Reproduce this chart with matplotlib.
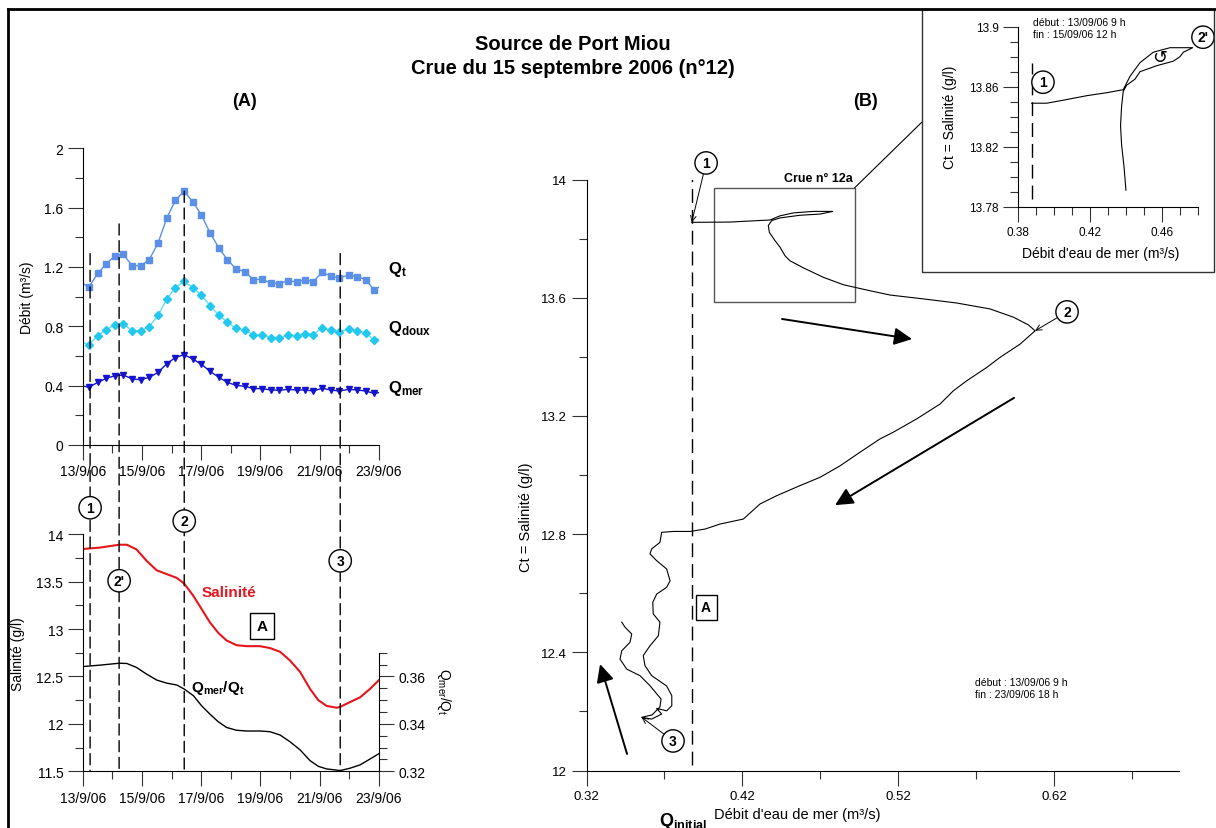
import numpy as np
import matplotlib.pyplot as plt
from matplotlib.patches import Rectangle, ConnectionPatch
from matplotlib.lines import Line2D
from matplotlib.ticker import FixedLocator, MultipleLocator

plt.rcParams['font.family'] = ['Liberation Sans', 'DejaVu Sans']
plt.rcParams['mathtext.fontset'] = 'custom'
plt.rcParams['mathtext.rm'] = 'Liberation Sans'
plt.rcParams['mathtext.bf'] = 'Liberation Sans:bold'
plt.rcParams['mathtext.it'] = 'Liberation Sans:italic'

# ---- (A) debits, jour de septembre 2006
t_q = [13.00, 13.20, 13.51, 13.79, 14.09, 14.37, 14.67, 14.96, 15.25, 15.55,
       15.84, 16.13, 16.42, 16.72, 17.01, 17.30, 17.60, 17.89, 18.18, 18.47,
       18.77, 19.06, 19.35, 19.64, 19.94, 20.23, 20.51, 20.79, 21.09, 21.38,
       21.67, 21.98, 22.26, 22.56, 22.84, 23.00]
q_total = [1.09, 1.063, 1.157, 1.220, 1.276, 1.285, 1.209, 1.209, 1.249, 1.364,
           1.530, 1.649, 1.710, 1.640, 1.551, 1.431, 1.328, 1.249, 1.187, 1.169,
           1.115, 1.117, 1.092, 1.088, 1.108, 1.099, 1.115, 1.101, 1.164, 1.139,
           1.126, 1.146, 1.135, 1.115, 1.045, 1.063]
q_doux = [0.692, 0.674, 0.737, 0.775, 0.811, 0.818, 0.769, 0.771, 0.798, 0.876,
          0.984, 1.061, 1.103, 1.061, 1.011, 0.939, 0.876, 0.827, 0.787, 0.775,
          0.742, 0.742, 0.724, 0.721, 0.742, 0.737, 0.751, 0.744, 0.791, 0.773,
          0.764, 0.780, 0.769, 0.757, 0.706, 0.715]
q_mer = [0.398, 0.389, 0.422, 0.449, 0.467, 0.472, 0.445, 0.440, 0.456, 0.490,
         0.548, 0.589, 0.609, 0.580, 0.544, 0.497, 0.456, 0.422, 0.402, 0.396,
         0.380, 0.380, 0.371, 0.369, 0.375, 0.371, 0.371, 0.364, 0.382, 0.371,
         0.364, 0.375, 0.371, 0.364, 0.348, 0.353]

# ---- (A) salinite et Qmer/Qt
t_s = [13.00, 13.59, 14.23, 14.49, 14.82, 15.16, 15.50, 15.84, 16.18, 16.43,
       16.74, 17.02, 17.30, 17.58, 17.86, 18.20, 18.54, 18.99, 19.33, 19.67,
       20.00, 20.34, 20.68, 20.96, 21.24, 21.58, 21.70, 22.03, 22.37, 22.71, 23.00]
salinite = [13.845, 13.86, 13.89, 13.89, 13.84, 13.72, 13.62, 13.58, 13.54, 13.48,
            13.35, 13.21, 13.07, 12.96, 12.88, 12.83, 12.82, 12.82, 12.80, 12.76,
            12.67, 12.55, 12.37, 12.25, 12.19, 12.17, 12.18, 12.23, 12.28, 12.37, 12.46]
rapport = [0.3642, 0.3648, 0.3656, 0.3655, 0.3638, 0.3610, 0.3585, 0.3572, 0.3564, 0.3547,
           0.3519, 0.3476, 0.3441, 0.3409, 0.3385, 0.3373, 0.3370, 0.3370, 0.3367, 0.3353,
           0.3325, 0.3291, 0.3245, 0.3221, 0.3210, 0.3205, 0.3203, 0.3213, 0.3227, 0.3252, 0.3274]

# evenements 1, 2', 2, 3
t_evt = [13.25, 14.23, 16.43, 21.70]
evt_noms = ['1', "2'", '2', '3']
evt_haut = [1.29, 1.49, 1.71, 1.29]
evt_y = [14.28, 13.51, 14.14, 13.72]

date_ticks = [13, 15, 17, 19, 21, 23]
date_labels = ['13/9/06', '15/9/06', '17/9/06', '19/9/06', '21/9/06', '23/9/06']

# ---- (B) salinite vs debit d'eau de mer
qmer_b = [0.3875, 0.4120, 0.4377, 0.4441, 0.4527, 0.4655, 0.4779, 0.4698, 0.4569, 0.4441,
          0.4388, 0.4366, 0.4373, 0.4409, 0.4441, 0.4473, 0.4505, 0.4591, 0.4719, 0.4847,
          0.4997, 0.5147, 0.5360, 0.5575, 0.5788, 0.5938, 0.6034, 0.6077, 0.5981, 0.5852,
          0.5767, 0.5639, 0.5553, 0.5467, 0.5318, 0.5168, 0.5082, 0.4954, 0.4826, 0.4697,
          0.4569, 0.4420, 0.4313, 0.4206, 0.4056, 0.3960, 0.3864, 0.3757, 0.3682, 0.3671,
          0.3618, 0.3607, 0.3650, 0.3714, 0.3736, 0.3714, 0.3650, 0.3625, 0.3628, 0.3671,
          0.3661, 0.3607, 0.3564, 0.3575, 0.3618, 0.3714, 0.3747, 0.3747, 0.3714, 0.3650,
          0.3682, 0.3618, 0.3554, 0.3620, 0.3671, 0.3678, 0.3607, 0.3543, 0.3458, 0.3415,
          0.3426, 0.3479, 0.3490, 0.3447, 0.3426]
ct_b = [13.855, 13.856, 13.863, 13.877, 13.887, 13.892, 13.892, 13.883, 13.879, 13.870,
        13.861, 13.844, 13.821, 13.793, 13.771, 13.742, 13.725, 13.701, 13.669, 13.644,
        13.626, 13.609, 13.596, 13.582, 13.562, 13.534, 13.508, 13.488, 13.443, 13.398,
        13.364, 13.319, 13.285, 13.240, 13.190, 13.145, 13.122, 13.077, 13.031, 12.992,
        12.964, 12.930, 12.902, 12.851, 12.834, 12.817, 12.809, 12.809, 12.806, 12.772,
        12.750, 12.733, 12.710, 12.682, 12.642, 12.620, 12.597, 12.569, 12.530, 12.502,
        12.456, 12.422, 12.389, 12.355, 12.321, 12.286, 12.253, 12.219, 12.202, 12.210,
        12.191, 12.174, 12.180, 12.188, 12.215, 12.242, 12.287, 12.321, 12.343, 12.377,
        12.405, 12.434, 12.462, 12.485, 12.502]
q_initial = 0.3875
i_pt2 = 27   # point 2 (max de Qmer)
i_pt3 = 72   # point 3

# ---- zoom crue 12a
qmer_i = [0.3874, 0.3958, 0.4050, 0.4180, 0.4291, 0.4383, 0.4421, 0.4476, 0.4550, 0.4643,
          0.4736, 0.4769, 0.4717, 0.4698, 0.4661, 0.4569, 0.4476, 0.4448, 0.4402, 0.4383,
          0.4374, 0.4368, 0.4374, 0.4387, 0.4398]
ct_i = [13.849, 13.849, 13.851, 13.854, 13.856, 13.858, 13.867, 13.876, 13.883, 13.886,
        13.886, 13.886, 13.883, 13.880, 13.877, 13.874, 13.870, 13.865, 13.861, 13.857,
        13.847, 13.834, 13.821, 13.807, 13.791]

W, H = 1216, 829
def fx(px):
    return px / W
def fy(py):
    return 1 - py / H

fig = plt.figure(figsize=(W / 100, H / 100), dpi=100)

def style(ax):
    for s in ['top', 'right']:
        ax.spines[s].set_visible(False)
    ax.tick_params(which='major', direction='out', length=11, width=0.8, color='#333333', labelsize=10, pad=3)
    ax.tick_params(which='minor', direction='out', length=5.5, width=0.8, color='#333333')

# ---------- (A) haut
axA1 = fig.add_axes([fx(82.7), fy(446), 296 / W, 296.7 / H])
style(axA1)
axA1.plot(t_q, q_total, color='#5b8fe8', lw=1, marker='s', ms=5, markevery=slice(1, -1))
axA1.plot(t_q, q_doux, color='#5ee0f5', lw=1, marker='D', ms=4, mfc='#22c8ee', mec='#22c8ee', markevery=slice(1, -1))
axA1.plot(t_q, q_mer, color='#1414cc', lw=1, marker='v', ms=5, markevery=slice(1, -1))
axA1.set_xlim(13, 23)
axA1.set_ylim(0, 2)
axA1.xaxis.set_major_locator(FixedLocator(date_ticks))
axA1.set_xticklabels(date_labels)
axA1.xaxis.set_minor_locator(MultipleLocator(1))
axA1.yaxis.set_major_locator(FixedLocator([0, 0.4, 0.8, 1.2, 1.6, 2]))
axA1.set_yticklabels(['0', '0.4', '0.8', '1.2', '1.6', '2'])
axA1.yaxis.set_minor_locator(MultipleLocator(0.2))
axA1.set_ylabel('Débit (m³/s)', fontsize=10)
axA1.yaxis.set_label_coords(-0.165, 0.5)
axA1.text(23.32, 1.19, r'$\mathbf{Q}_{\mathbf{t}}$', fontsize=12, va='center')
axA1.text(23.32, 0.79, r'$\mathbf{Q}_{\mathbf{doux}}$', fontsize=12, va='center')
axA1.text(23.32, 0.39, r'$\mathbf{Q}_{\mathbf{mer}}$', fontsize=12, va='center')

# ---------- (A) bas
axA2 = fig.add_axes([fx(82.7), fy(772.3), 296 / W, 237 / H])
style(axA2)
axA2.plot(t_s, salinite, color='#e8141c', lw=1.5)
axA2.set_xlim(13, 23)
axA2.set_ylim(11.5, 14)
axA2.xaxis.set_major_locator(FixedLocator(date_ticks))
axA2.set_xticklabels(date_labels)
axA2.xaxis.set_minor_locator(MultipleLocator(1))
axA2.yaxis.set_major_locator(FixedLocator([11.5, 12, 12.5, 13, 13.5, 14]))
axA2.set_yticklabels(['11.5', '12', '12.5', '13', '13.5', '14'])
axA2.yaxis.set_minor_locator(FixedLocator([11.75, 12.25, 12.75, 13.25, 13.75]))
axA2.spines['left'].set_bounds(11.5, 14)
axA2.set_ylabel('Salinité (g/l)', fontsize=10)
axA2.yaxis.set_label_coords(-0.195, 0.5)
axA2.text(17.94, 13.39, 'Salinité', color='#e8141c', fontsize=11, fontweight='bold', ha='center', va='center')
axA2.text(17.57, 12.39, r'$\mathbf{Q}_{\mathbf{mer}}\mathbf{/Q}_{\mathbf{t}}$', fontsize=11, ha='center', va='center')
axA2.text(19.06, 13.03, 'A', fontsize=11, fontweight='bold', ha='center', va='center',
          bbox=dict(boxstyle='square,pad=0.4', fc='white', ec='k', lw=1))

axR = axA2.twinx()
axR.plot(t_s, rapport, color='k', lw=1)
axR.set_ylim(0.32, 0.42)
for s in ['top', 'left', 'bottom']:
    axR.spines[s].set_visible(False)
axR.spines['right'].set_bounds(0.32, 0.37)
axR.yaxis.set_major_locator(FixedLocator([0.32, 0.34, 0.36]))
axR.set_yticklabels(['0.32', '0.34', '0.36'])
axR.yaxis.set_minor_locator(FixedLocator([0.325, 0.33, 0.335, 0.345, 0.35, 0.355, 0.365, 0.37]))
axR.tick_params(which='major', direction='out', length=11, width=0.8, color='#333333', labelsize=10)
axR.tick_params(which='minor', direction='out', length=5.5, width=0.8, color='#333333')
axR.set_ylabel(r'$\mathrm{Q}_{\mathrm{mer}}\mathrm{/Q}_{\mathrm{t}}$', fontsize=10, rotation=270)
axR.yaxis.set_label_coords(1.25, 0.34)

# lignes verticales des evenements (traversent les deux graphes)
for t, top, nom, yc in zip(t_evt, evt_haut, evt_noms, evt_y):
    cp = ConnectionPatch(xyA=(t, top), coordsA='data', axesA=axA1,
                         xyB=(t, 11.5), coordsB='data', axesB=axA2,
                         color='k', lw=1, linestyle=(0, (8, 4)), zorder=2)
    axA2.add_artist(cp)
    cp.set_clip_on(False)
    axA2.text(t, yc, nom, fontsize=10, fontweight='bold', ha='center', va='center', zorder=6,
              bbox=dict(boxstyle='circle,pad=0.3', fc='white', ec='k', lw=1))

# ---------- (B)
axB = fig.add_axes([fx(586.5), fy(771.5), 592.5 / W, 591 / H])
style(axB)
axB.plot(qmer_b, ct_b, color='k', lw=0.8)
axB.plot([q_initial, q_initial], [12.02, 14.01], color='k', lw=1, linestyle=(0, (10, 5)))
axB.set_xlim(0.32, 0.70)
axB.set_ylim(12, 14)
axB.xaxis.set_major_locator(FixedLocator([0.32, 0.42, 0.52, 0.62]))
axB.set_xticklabels(['0.32', '0.42', '0.52', '0.62'])
axB.xaxis.set_minor_locator(FixedLocator([0.37, 0.47, 0.57, 0.67]))
axB.yaxis.set_major_locator(FixedLocator([12, 12.4, 12.8, 13.2, 13.6, 14]))
axB.set_yticklabels(['12', '12.4', '12.8', '13.2', '13.6', '14'])
axB.yaxis.set_minor_locator(FixedLocator([12.2, 12.6, 13.0, 13.4, 13.8]))
axB.tick_params(labelsize=9.5)
axB.set_ylabel('Ct = Salinité (g/l)', fontsize=10.5)
axB.yaxis.set_label_coords(-0.09, 0.43)
axB.set_xlabel("Débit d'eau de mer (m³/s)", fontsize=10.5)
axB.xaxis.set_label_coords(0.355, -0.062)

axB.add_patch(Rectangle((0.4016, 13.586), 0.0904, 0.386, fill=False, ec='#555555', lw=1))
axB.text(0.491, 13.985, 'Crue n° 12a', fontsize=9, fontweight='bold', ha='right', va='bottom')
axB.text(0.3967, 12.553, 'A', fontsize=10, fontweight='bold', ha='center', va='center',
         bbox=dict(boxstyle='square,pad=0.4', fc='white', ec='k', lw=1))
axB.text(0.5692, 12.279, 'début : 13/09/06 9 h\nfin : 23/09/06 18 h', fontsize=7.5, va='center', linespacing=1.3)

circ = dict(boxstyle='circle,pad=0.3', fc='white', ec='k', lw=1)
fin = dict(arrowstyle='->', lw=0.7, color='k', shrinkA=0, shrinkB=0)
axB.annotate('1', xy=(qmer_b[0], ct_b[0]), xytext=(0.3967, 14.056), fontsize=10, fontweight='bold',
             ha='center', va='center', bbox=circ, arrowprops=fin)
axB.annotate('2', xy=(qmer_b[i_pt2], ct_b[i_pt2]), xytext=(0.6282, 13.552), fontsize=10, fontweight='bold',
             ha='center', va='center', bbox=circ, arrowprops=fin)
axB.annotate('3', xy=(qmer_b[i_pt3], ct_b[i_pt3]), xytext=(0.3755, 12.100), fontsize=10, fontweight='bold',
             ha='center', va='center', bbox=circ, arrowprops=fin)

gros = dict(arrowstyle='-|>,head_length=0.45,head_width=0.22', mutation_scale=24, lw=1.4,
            color='k', shrinkA=0, shrinkB=0)
axB.annotate('', xy=(0.5288, 13.460), xytext=(0.4454, 13.528), arrowprops=gros)
axB.annotate('', xy=(0.4794, 12.898), xytext=(0.5942, 13.261), arrowprops=gros)
axB.annotate('', xy=(0.3287, 12.360), xytext=(0.3460, 12.056), arrowprops=gros)

fig.text(fx(683), fy(826), r'$\mathbf{Q}_{\mathbf{initial}}$', fontsize=13, ha='center', va='baseline')

# ---------- zoom crue 12a
fig.add_artist(Rectangle((fx(922), fy(273)), fx(1214) - fx(922), fy(10) - fy(273),
                         transform=fig.transFigure, fill=False, ec='#333333', lw=1))
cp = ConnectionPatch(xyA=(0.4920, 13.972), coordsA='data', axesA=axB,
                     xyB=(fx(922), fy(123)), coordsB='figure fraction', color='k', lw=0.8)
fig.add_artist(cp)

axI = fig.add_axes([fx(1018.3), fy(207.7), 180 / W, 180 / H])
style(axI)
axI.plot(qmer_i, ct_i, color='k', lw=0.8)
axI.plot([q_initial, q_initial], [13.785, 13.876], color='k', lw=1, linestyle=(0, (10, 5)))
axI.set_xlim(0.38, 0.48)
axI.set_ylim(13.78, 13.90)
axI.xaxis.set_major_locator(FixedLocator([0.38, 0.42, 0.46]))
axI.set_xticklabels(['0.38', '0.42', '0.46'])
axI.xaxis.set_minor_locator(FixedLocator([0.39, 0.40, 0.41, 0.43, 0.44, 0.45, 0.47, 0.48]))
axI.yaxis.set_major_locator(FixedLocator([13.78, 13.82, 13.86, 13.9]))
axI.set_yticklabels(['13.78', '13.82', '13.86', '13.9'])
axI.yaxis.set_minor_locator(FixedLocator([13.79, 13.80, 13.81, 13.83, 13.84, 13.85, 13.87, 13.88, 13.89]))
axI.tick_params(labelsize=8.5)
axI.set_ylabel('Ct = Salinité (g/l)', fontsize=10)
axI.yaxis.set_label_coords(-0.34, 0.5)
axI.set_xlabel("Débit d'eau de mer (m³/s)", fontsize=10)
axI.xaxis.set_label_coords(0.46, -0.22)
axI.text(0.3882, 13.899, 'début : 13/09/06 9 h\nfin : 15/09/06 12 h', fontsize=7.5, va='center', linespacing=1.3)
axI.text(0.3937, 13.863, '1', fontsize=10, fontweight='bold', ha='center', va='center', bbox=circ)
axI.text(0.4826, 13.893, "2'", fontsize=10, fontweight='bold', ha='center', va='center', bbox=circ)
axI.text(0.4588, 13.880, '↺', fontsize=13, ha='center', va='center', family=['DejaVu Sans'])

# ---------- titres et cadre
fig.text(fx(573), fy(45), 'Source de Port Miou', fontsize=14.5, fontweight='bold', ha='center', va='center')
fig.text(fx(573), fy(68), 'Crue du 15 septembre 2006 (n°12)', fontsize=14.5, fontweight='bold', ha='center', va='center')
fig.text(fx(244), fy(101), '(A)', fontsize=13, fontweight='bold', ha='center', va='center')
fig.text(fx(866), fy(101), '(B)', fontsize=13, fontweight='bold', ha='center', va='center')
fig.add_artist(Line2D([fx(8), fx(8)], [0, fy(10)], transform=fig.transFigure, color='k', lw=2))
fig.add_artist(Line2D([fx(8), 1], [fy(10), fy(10)], transform=fig.transFigure, color='k', lw=2))

fig.savefig('out.png', dpi=100)
